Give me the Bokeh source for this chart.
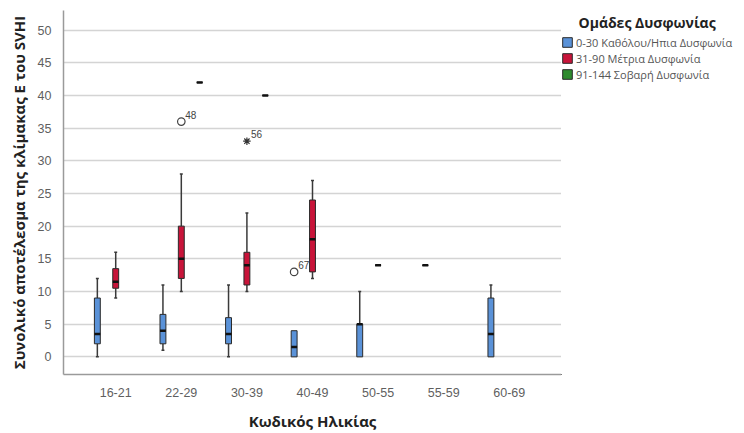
import numpy as np
from bokeh.plotting import figure
from bokeh.layouts import row
from bokeh.models import (ColumnDataSource, FactorRange, Legend, LegendItem, FixedTicker, Label)
from bokeh.transform import dodge
from bokeh.core.properties import value
from bokeh.embed import file_html
from bokeh.resources import INLINE

# ---------------- data ----------------
ages = ["16-21", "22-29", "30-39", "40-49", "50-55", "55-59", "60-69"]
groups = ["0-30 Καθόλου/Ηπια Δυσφωνία", "31-90 Μέτρια Δυσφωνία", "91-144 Σοβαρή Δυσφωνία"]
legend_title = "Ομάδες Δυσφωνίας"
colors = ["#5A92D8", "#C8143A", "#2E8B2E"]
nan = float("nan")

# per group: lower whisker, Q1, median, Q3, upper whisker (nan = no data)
mild_lo  = [0,   1,   0,   0,   0,   14,  0]
mild_q1  = [2,   2,   2,   0,   0,   14,  0]
mild_med = [3.5, 4,   3.5, 1.5, 5,   14,  3.5]
mild_q3  = [9,   6.5, 6,   4,   5,   14,  9]
mild_hi  = [12,  11,  11,  4,   10,  14,  11]

mod_lo   = [9,    10, 10, 12, 14, nan, nan]
mod_q1   = [10.5, 12, 11, 13, 14, nan, nan]
mod_med  = [11.5, 15, 14, 18, 14, nan, nan]
mod_q3   = [13.5, 20, 16, 24, 14, nan, nan]
mod_hi   = [16,   28, 22, 27, 14, nan, nan]

sev_lo   = [nan, 42, 40, nan, nan, nan, nan]
sev_q1   = [nan, 42, 40, nan, nan, nan, nan]
sev_med  = [nan, 42, 40, nan, nan, nan, nan]
sev_q3   = [nan, 42, 40, nan, nan, nan, nan]
sev_hi   = [nan, 42, 40, nan, nan, nan, nan]

# outliers
out_age   = ["22-29", "30-39", "40-49"]
out_group = [1, 1, 0]
out_value = [36, 33, 13]
out_label = ["48", "56", "67"]
out_kind  = ["circle", "star", "circle"]

y_ticks = [0, 5, 10, 15, 20, 25, 30, 35, 40, 45, 50]

# ---------------- main figure ----------------
H = 433
TOP, BOTTOM = 10, 52
p = figure(width=561, height=H, x_range=FactorRange(factors=ages, range_padding=0.296,
                                                    range_padding_units="absolute"),
           y_range=(-2.7, 53), output_backend="svg", toolbar_location=None,
           min_border_left=63, min_border_right=0, min_border_top=TOP,
           min_border_bottom=BOTTOM)
p.outline_line_color = None
p.background_fill_color = "white"
p.border_fill_color = "white"
p.xgrid.grid_line_color = None
p.ygrid.grid_line_color = "#d4d4d4"
p.ygrid.grid_line_width = 1.5

p.yaxis.ticker = FixedTicker(ticks=y_ticks)
for ax in (p.xaxis, p.yaxis):
    ax.major_tick_line_color = None
    ax.minor_tick_line_color = None
    ax.axis_line_color = "#9a9a9a"
    ax.axis_line_width = 1.5
    ax.major_label_text_font = "Liberation Sans"
    ax.major_label_text_font_size = "12.5px"
    ax.major_label_text_color = "#5f5f5f"
    ax.axis_label_text_font = "Open Sans"
    ax.axis_label_text_font_style = "bold"
    ax.axis_label_text_font_size = "15px"
    ax.axis_label_text_color = "#222222"
p.yaxis.major_label_standoff = 6
p.xaxis.major_label_standoff = 7
p.yaxis.axis_label_standoff = 6
p.xaxis.axis_label_standoff = 11
p.xaxis.axis_label = "Κωδικός Ηλικίας"
p.yaxis.axis_label = "Συνολικό αποτέλεσμα της κλίμακας Ε του SVHI"

offsets = [-0.28, 0.0, 0.28]
bw = 0.09
cap = 0.045
whisker_color = "#3a3a3a"
data = [
    (mild_lo, mild_q1, mild_med, mild_q3, mild_hi),
    (mod_lo, mod_q1, mod_med, mod_q3, mod_hi),
    (sev_lo, sev_q1, sev_med, sev_q3, sev_hi),
]

for gi, (lo, q1, med, q3, hi) in enumerate(data):
    keep = [i for i in range(len(ages)) if not np.isnan(med[i])]
    src = ColumnDataSource(dict(
        age=[ages[i] for i in keep],
        lo=[lo[i] for i in keep], q1=[q1[i] for i in keep], med=[med[i] for i in keep],
        q3=[q3[i] for i in keep], hi=[hi[i] for i in keep]))
    xd = dodge("age", offsets[gi], range=p.x_range)
    for sel, a_arr, b_arr in (([i for i in keep if hi[i] > q3[i]], q3, hi),
                              ([i for i in keep if lo[i] < q1[i]], q1, lo)):
        if not sel:
            continue
        s = ColumnDataSource(dict(age=[ages[i] for i in sel], a=[a_arr[i] for i in sel],
                                  b=[b_arr[i] for i in sel]))
        p.segment(x0=xd, x1=xd, y0="a", y1="b", source=s, line_color=whisker_color, line_width=1.5)
        p.segment(x0=dodge("age", offsets[gi] - cap / 2, range=p.x_range),
                  x1=dodge("age", offsets[gi] + cap / 2, range=p.x_range),
                  y0="b", y1="b", source=s, line_color=whisker_color, line_width=1.5)
    p.vbar(x=xd, width=bw, bottom="q1", top="q3", source=src,
           fill_color=colors[gi], line_color="#2a2a2a", line_width=1)
    p.segment(x0=dodge("age", offsets[gi] - bw / 2, range=p.x_range),
              x1=dodge("age", offsets[gi] + bw / 2, range=p.x_range),
              y0="med", y1="med", source=src, line_color="#111111", line_width=2.5)

# outliers
for i in range(len(out_age)):
    s = ColumnDataSource(dict(age=[out_age[i]], v=[out_value[i]], lab=[out_label[i]]))
    xd = dodge("age", offsets[out_group[i]], range=p.x_range)
    if out_kind[i] == "circle":
        p.scatter(x=xd, y="v", source=s, marker="circle", size=7.5, fill_color="white",
                  line_color="#444444", line_width=1.2)
    else:
        p.scatter(x=xd, y="v", source=s, marker="asterisk", size=7.5,
                  line_color="#333333", line_width=1.2)
    p.text(x=xd, y="v", text="lab", source=s, x_offset=4, y_offset=-3,
           text_font=value("Liberation Sans"), text_font_size="10px",
           text_color="#444444", text_baseline="bottom", text_align="left")

# ---------------- legend figure (frame aligned with the main frame) ----------------
q = figure(width=183, height=H, x_range=(0, 1), y_range=(0, 1), output_backend="svg",
           toolbar_location=None, x_axis_location=None, y_axis_location=None,
           min_border_left=0, min_border_right=0, min_border_top=TOP,
           min_border_bottom=BOTTOM)
q.outline_line_color = None
q.grid.grid_line_color = None
q.background_fill_color = "white"
q.border_fill_color = "white"
frame_h = H - TOP - BOTTOM
# legend-only swatch renderers (kept outside the visible range)
swatch_src = ColumnDataSource(dict(x=[-10.0], top=[-10.0], bottom=[-11.0]))
leg_r = [q.vbar(x="x", width=0.1, top="top", bottom="bottom", source=swatch_src,
                fill_color=colors[k], line_color="#2a2a2a", line_width=1) for k in range(3)]
legend = Legend(items=[LegendItem(label=groups[k], renderers=[leg_r[k]]) for k in range(3)],
                location=(0, frame_h - (89 - TOP)), orientation="vertical",
                glyph_width=12, glyph_height=12, label_height=16, spacing=0,
                label_standoff=3, padding=0, margin=0,
                border_line_color=None, background_fill_alpha=0,
                label_text_font="Open Sans", label_text_font_size="11px",
                label_text_color="#555555")
q.add_layout(legend, "center")
q.add_layout(Label(x=17, y=frame_h - (29 - TOP), x_units="screen", y_units="screen",
                   text=legend_title, text_font="Open Sans", text_font_style="bold",
                   text_font_size="14px", text_color="#222222", text_baseline="middle"))

open("out.html", "w").write(file_html(row(p, q), INLINE))
